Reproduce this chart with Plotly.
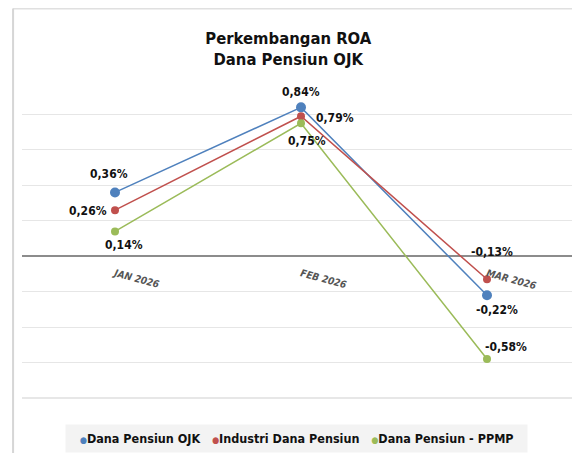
import plotly.graph_objects as go

categories = ["JAN 2026", "FEB 2026", "MAR 2026"]
ojk = [0.36, 0.84, -0.22]
industri = [0.26, 0.79, -0.13]
ppmp = [0.14, 0.75, -0.58]

names = ["Dana Pensiun OJK", "Industri Dana Pensiun", "Dana Pensiun - PPMP"]
colors = ["#4F81BD", "#C0504D", "#9BBB59"]
# label pixel offsets (dx, dy) relative to each marker; dy positive = downward
offsets = [
    [(-6, -18), (0, -15), (10, 15)],
    [(-27, 1), (34, 2), (5, -27)],
    [(9, 14), (6, 18), (19, -12)],
]
msizes = [10, 8, 8]

FONT = "DejaVu Sans Condensed"

def fmt(v):
    return f"{v:.2f}".replace(".", ",") + "%"

fig = go.Figure()
annotations = []
for vals, name, col, offs, ms in zip([ojk, industri, ppmp], names, colors, offsets, msizes):
    fig.add_trace(go.Scatter(
        x=categories, y=vals, mode="lines+markers",
        line=dict(color=col, width=1.5),
        marker=dict(color=col, size=ms),
        showlegend=False, name=name, cliponaxis=False,
    ))
    for c, v, (dx, dy) in zip(categories, vals, offs):
        annotations.append(dict(
            x=c, y=v, xref="x", yref="y", text=fmt(v), showarrow=False,
            xanchor="center", yanchor="middle", xshift=dx, yshift=-dy,
            font=dict(family=FONT, size=12, color="#111111", weight="bold"),
        ))

legend_text = "&nbsp;&nbsp;" + "&nbsp;&nbsp;&nbsp;".join(
    f"<span style='color:{c};font-size:9px'>●</span>{n}" for n, c in zip(names, colors)
) + "&nbsp;&nbsp;"
annotations.append(dict(
    x=0.492, y=-0.127, xref="paper", yref="paper", xanchor="center", yanchor="middle",
    text=legend_text, showarrow=False, bgcolor="#F3F3F3", borderpad=6,
    font=dict(family=FONT, size=12.5, color="#111111", weight="bold"),
))

fig.update_layout(
    width=572, height=445,
    margin=dict(l=14, r=0, t=71, b=55),
    paper_bgcolor="white", plot_bgcolor="white",
    showlegend=False,
    title=dict(text="<b>Perkembangan ROA<br>Dana Pensiun OJK</b>",
               x=0.49, xanchor="center", y=0.92, yanchor="middle",
               font=dict(family=FONT, size=16.5, color="#111111")),
    xaxis=dict(anchor="free", position=0.8 / 1.8, showline=False, showgrid=False,
               range=[-0.5, 2.5],
               ticks="outside", ticklen=7, tickcolor="rgba(0,0,0,0)", tickangle=15,
               tickfont=dict(family=FONT, size=10, color="#555555", style="italic", weight="bold")),
    yaxis=dict(range=[-0.8, 1.0], dtick=0.2, showticklabels=False, ticks="",
               showgrid=True, gridcolor="#E6E6E6", gridwidth=1,
               zeroline=True, zerolinecolor="#8C8C8C", zerolinewidth=1.5),
    annotations=annotations,
    shapes=[
        dict(type="line", xref="paper", yref="paper", x0=-0.016, x1=1.0, y0=1.221, y1=1.221,
             line=dict(color="#E0E0E0", width=2)),
        dict(type="line", xref="paper", yref="paper", x0=-0.016, x1=-0.016, y0=1.221, y1=-0.175,
             line=dict(color="#D6D6D6", width=2)),
        dict(type="line", xref="paper", yref="paper", x0=0, x1=1, y0=0, y1=0,
             line=dict(color="#CFCFCF", width=1)),
    ],
)

fig.write_html("out.html")
